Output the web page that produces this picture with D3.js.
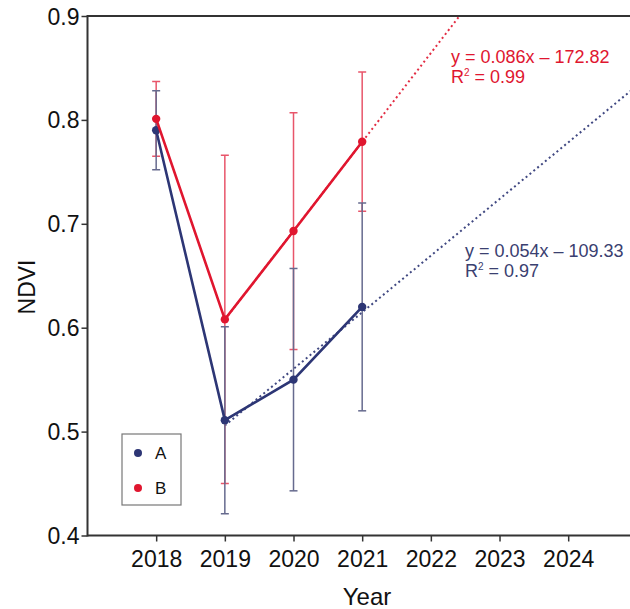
<!DOCTYPE html>
<html>
<head>
<meta charset="utf-8">
<script src="https://cdn.jsdelivr.net/npm/d3@7"></script>
<style>
  html, body { margin: 0; padding: 0; background: #fff; }
  svg { display: block; font-family: "Liberation Sans", Arial, sans-serif; }
</style>
</head>
<body>
<svg id="chart" width="630" height="609"></svg>
<script>
// NDVI by year for two groups, mean ± error
const years = [2018, 2019, 2020, 2021];
const seriesA = [0.790, 0.511, 0.550, 0.620];
const errorA = [0.038, 0.090, 0.107, 0.100];
const seriesB = [0.801, 0.608, 0.693, 0.779];
const errorB = [0.036, 0.158, 0.114, 0.067];
const xTickYears = [2018, 2019, 2020, 2021, 2022, 2023, 2024];
const yTickValues = [0.4, 0.5, 0.6, 0.7, 0.8, 0.9];
const fitYears = [2019, 2020, 2021];
const seriesNames = ["A", "B"];
const equationA = ["y = 0.054x \u2013 109.33", "0.97"];
const equationB = ["y = 0.086x \u2013 172.82", "0.99"];

const colA = "#2d3675", colB = "#e0162f";
const errColA = "#666a8e", errColB = "#e8556a";

const svg = d3.select("#chart");
const plotLeft = 87.5, plotTop = 16, plotBottom = 535.5, plotRight = 630;

const x = d3.scaleLinear().domain([2017, 2025]).range([plotLeft, plotLeft + 8 * 68.67]);
const y = d3.scaleLinear().domain([0.4, 0.9]).range([plotBottom, plotTop]);

svg.append("defs").append("clipPath").attr("id", "plotClip")
  .append("rect").attr("x", plotLeft).attr("y", plotTop)
  .attr("width", plotRight - plotLeft).attr("height", plotBottom - plotTop);

// least-squares trend over the later years
function fit(vals) {
  const pts = fitYears.map(yr => [yr, vals[years.indexOf(yr)]]);
  const mx = d3.mean(pts, p => p[0]), my = d3.mean(pts, p => p[1]);
  const slope = d3.sum(pts, p => (p[0] - mx) * (p[1] - my)) / d3.sum(pts, p => (p[0] - mx) ** 2);
  return { slope, intercept: my - slope * mx };
}

const plot = svg.append("g").attr("clip-path", "url(#plotClip)");

// dotted trend lines
[[seriesA, colA], [seriesB, colB]].forEach(([vals, c]) => {
  const f = fit(vals);
  const x0 = fitYears[0], x1 = 2026;
  plot.append("line")
    .attr("x1", x(x0)).attr("y1", y(f.slope * x0 + f.intercept))
    .attr("x2", x(x1)).attr("y2", y(f.slope * x1 + f.intercept))
    .attr("stroke", c).attr("stroke-width", 2)
    .attr("stroke-dasharray", "2,3").attr("opacity", 0.9);
});

// error bars (B beneath A)
function errorBars(vals, errs, c) {
  const g = plot.append("g").attr("stroke", c).attr("stroke-width", 1.5);
  years.forEach((yr, i) => {
    const cx = x(yr), hi = y(vals[i] + errs[i]), lo = y(vals[i] - errs[i]);
    g.append("line").attr("x1", cx).attr("x2", cx).attr("y1", hi).attr("y2", lo);
    g.append("line").attr("x1", cx - 4).attr("x2", cx + 4).attr("y1", hi).attr("y2", hi);
    g.append("line").attr("x1", cx - 4).attr("x2", cx + 4).attr("y1", lo).attr("y2", lo);
  });
}
errorBars(seriesB, errorB, errColB);
errorBars(seriesA, errorA, errColA);

// series lines and points
const line = d3.line().x((d, i) => x(years[i])).y(d => y(d));
[[seriesA, colA], [seriesB, colB]].forEach(([vals, c]) => {
  plot.append("path").datum(vals).attr("d", line)
    .attr("fill", "none").attr("stroke", c).attr("stroke-width", 2.6);
  plot.selectAll(null).data(vals).enter().append("circle")
    .attr("cx", (d, i) => x(years[i])).attr("cy", d => y(d))
    .attr("r", 4.2).attr("fill", c);
});

// axes
const axisColor = "#333";
const yAxis = svg.append("g").attr("transform", `translate(${plotLeft},0)`)
  .call(d3.axisLeft(y).tickValues(yTickValues).tickFormat(d3.format(".1f")).tickSize(6).tickPadding(2));
const xAxis = svg.append("g").attr("transform", `translate(0,${plotBottom})`)
  .call(d3.axisBottom(x).tickValues(xTickYears).tickFormat(d3.format("d")).tickSize(6).tickPadding(9));
[yAxis, xAxis].forEach(a => {
  a.select(".domain").remove();
  a.selectAll(".tick line").attr("stroke", axisColor).attr("stroke-width", 1.5);
  a.selectAll(".tick text").attr("fill", "#111").style("font-size", "23px")
    .style("font-family", "'Liberation Sans', Arial, sans-serif");
});
yAxis.selectAll(".tick text").attr("dy", "0.35em");

// frame lines: left axis, bottom axis and top border
svg.append("line").attr("x1", plotLeft).attr("x2", plotLeft).attr("y1", plotTop - 1).attr("y2", plotBottom + 1)
  .attr("stroke", axisColor).attr("stroke-width", 2);
svg.append("line").attr("x1", plotLeft).attr("x2", plotRight).attr("y1", plotBottom).attr("y2", plotBottom)
  .attr("stroke", axisColor).attr("stroke-width", 2);
svg.append("line").attr("x1", plotLeft).attr("x2", plotRight).attr("y1", plotTop).attr("y2", plotTop)
  .attr("stroke", axisColor).attr("stroke-width", 2);

// axis titles
svg.append("text").attr("x", 367).attr("y", 605).attr("text-anchor", "middle")
  .style("font-size", "24px").attr("fill", "#111").text("Year");
svg.append("text").attr("transform", "translate(35,287) rotate(-90)").attr("text-anchor", "middle")
  .style("font-size", "23px").attr("fill", "#111").text("NDVI");

// regression equations
function equation(lines, c, tx, ty) {
  const g = svg.append("g").attr("fill", c).style("font-size", "18px");
  g.append("text").attr("x", tx).attr("y", ty).text(lines[0]);
  const r = g.append("text").attr("x", tx).attr("y", ty + 20);
  r.append("tspan").text("R");
  r.append("tspan").attr("dy", -7).style("font-size", "10px").text("2");
  r.append("tspan").attr("dy", 7).text(" = " + lines[1]);
}
equation(equationB, colB, 451, 63);
equation(equationA, "#3a4070", 465, 257);

// legend
const lg = svg.append("g");
lg.append("rect").attr("x", 122).attr("y", 434).attr("width", 59).attr("height", 71)
  .attr("fill", "#fff").attr("stroke", "#777").attr("stroke-width", 1.2);
[[colA, 453], [colB, 488]].forEach(([c, cy], i) => {
  lg.append("circle").attr("cx", 138).attr("cy", cy).attr("r", 4).attr("fill", c);
  lg.append("text").attr("x", 155).attr("y", cy + 6).style("font-size", "17px")
    .attr("fill", "#111").text(seriesNames[i]);
});
</script>
</body>
</html>
